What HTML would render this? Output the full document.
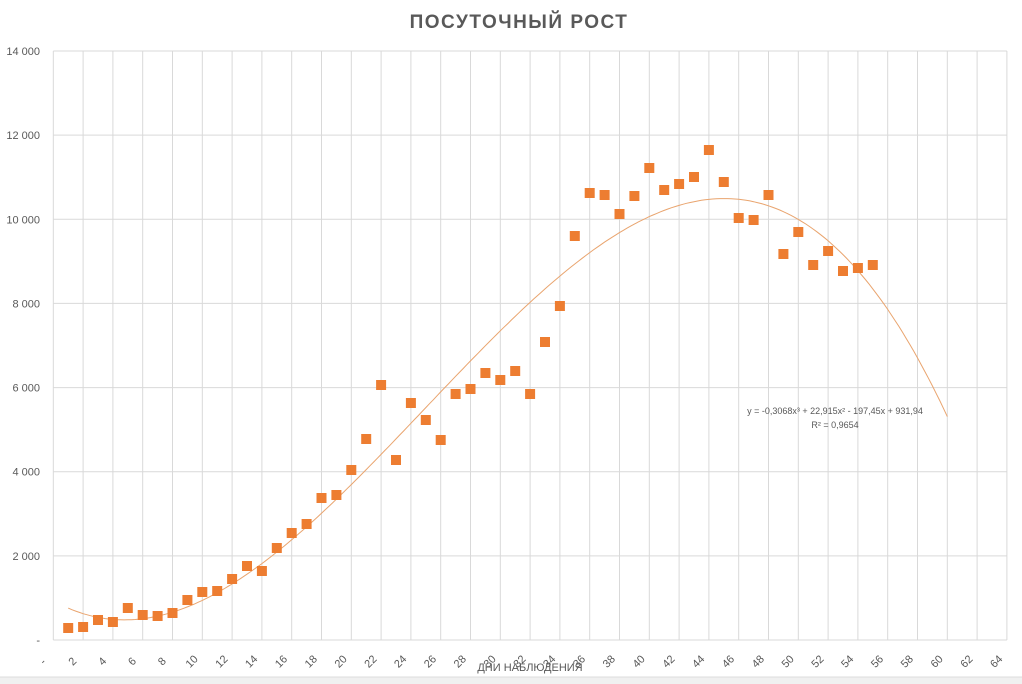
<!DOCTYPE html>
<html><head><meta charset="utf-8"><style>
html,body{margin:0;padding:0;background:#fff;}
svg{display:block;font-family:"Liberation Sans","Noto Sans CJK SC",sans-serif;}
</style></head><body>
<svg id="s" width="1022" height="684" xmlns="http://www.w3.org/2000/svg">
<rect x="0" y="0" width="1022" height="684" fill="#fff"/>
<rect x="0" y="677" width="1022" height="7" fill="#f0f0f0"/>
<line x1="0" y1="677" x2="1022" y2="677" stroke="#dcdcdc"/>
<text x="519" y="28" text-anchor="middle" font-size="19" font-weight="bold" fill="#595959" letter-spacing="1.5">ПОСУТОЧНЫЙ РОСТ</text>
<g id="grid" stroke="#d9d9d9" stroke-width="1"></g>
<g id="ylab" font-size="11" fill="#595959" text-anchor="end"></g>
<g id="xlab" font-size="11" fill="#595959"></g>
<path id="trend" fill="none" stroke="#E9A46E" stroke-width="1"/>
<g id="pts" fill="#ED7D31"></g>
<text x="835" y="414" text-anchor="middle" font-size="9" fill="#595959">y = -0,3068x³ + 22,915x² - 197,45x + 931,94</text>
<text x="835" y="428" text-anchor="middle" font-size="9" fill="#595959">R² = 0,9654</text>
<text x="530" y="671" text-anchor="middle" font-size="11" fill="#595959">ДНИ НАБЛЮДЕНИЯ</text>
</svg>
<script>
var ns="http://www.w3.org/2000/svg";
function el(t,a,p,txt){var e=document.createElementNS(ns,t);for(var k in a)e.setAttribute(k,a[k]);if(txt!==undefined)e.textContent=txt;document.getElementById(p).appendChild(e);return e;}
var x0=53.3,sx=14.9,y0=640,sy=589/14000;
function X(d){return x0+sx*d;}function Y(v){return y0-sy*v;}
for(var v=0;v<=14000;v+=2000){var y=Y(v);el("line",{x1:x0,y1:y,x2:X(64),y2:y},"grid");
el("text",{x:40,y:y+4},"ylab",v==0?"-":(v/1000)+" 000");}
for(var d=0;d<=64;d+=2){var x=X(d);el("line",{x1:x,y1:Y(14000),x2:x,y2:y0},"grid");
var lx=x-8,ly=664;el("text",{x:lx,y:ly,transform:"rotate(-45 "+lx+" "+ly+")","text-anchor":"middle"},"xlab",d==0?"-":String(d));}
var p="";for(var t=1;t<=60.001;t+=0.25){var v=-0.3068*t*t*t+22.915*t*t-197.45*t+931.94;p+=(p?"L":"M")+X(t).toFixed(1)+" "+Y(v).toFixed(1);}
document.getElementById("trend").setAttribute("d",p);
var py=[628,627,620,622,608,615,616,613,600,592,591,579,566,571,548,533,524,498,495,470,439,385,460,403,420,440,394,389,373,380,371,394,342,306,236,193,195,214,196,168,190,184,177,150,182,218,220,195,254,232,265,251,271,268,265];
for(var i=0;i<py.length;i++){el("rect",{x:X(i+1)-5,y:py[i]-5,width:10,height:10},"pts");}
</script>
</body></html>
